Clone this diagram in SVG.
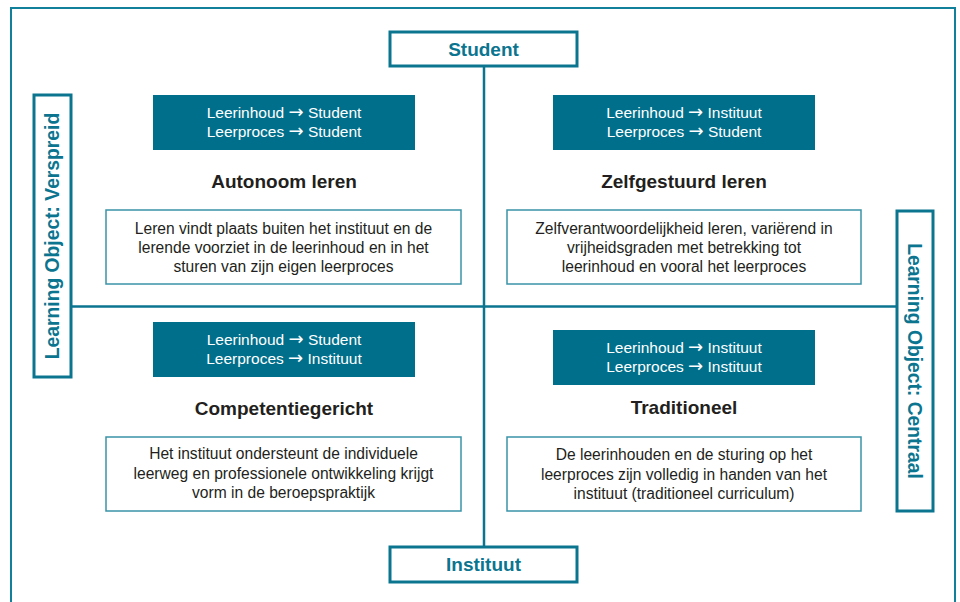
<svg xmlns="http://www.w3.org/2000/svg" width="960" height="602" viewBox="0 0 960 602">
  <style>
    .frame { fill: none; stroke: #11809a; stroke-width: 2; }
    .axis { fill: #ffffff; stroke: #0b7590; stroke-width: 3; }
    .axis-label { font-family: "Liberation Sans", Arial, sans-serif; font-weight: bold; font-size: 19px; fill: #0b7590; text-anchor: middle; }
    .side-label { font-family: "Liberation Sans", Arial, sans-serif; font-weight: bold; font-size: 19.3px; fill: #0b7590; text-anchor: middle; }
    .tag { fill: #006f8b; }
    .tag-text { font-family: "Liberation Sans", Arial, sans-serif; font-size: 15.5px; fill: #ffffff; text-anchor: middle; }
    .arrow { font-family: "DejaVu Sans", sans-serif; font-size: 18px; }
    .title { font-family: "Liberation Sans", Arial, sans-serif; font-weight: bold; font-size: 19px; fill: #231f20; text-anchor: middle; }
    .desc-box { fill: #ffffff; stroke: #3a93a8; stroke-width: 1.5; }
    .desc { font-family: "Liberation Sans", Arial, sans-serif; font-size: 15.6px; fill: #231f20; text-anchor: middle; }
    .link { stroke: #0b7590; stroke-width: 2.5; fill: none; }
  </style>

  <!-- outer frame, open at the bottom -->
  <rect class="frame" x="11" y="8" width="944" height="610"/>

  <!-- axes -->
  <g id="connectors">
    <line class="link" x1="484" y1="66" x2="484" y2="546"/>
    <line class="link" x1="72" y1="306.5" x2="896" y2="306.5"/>
  </g>

  <g id="student">
    <rect class="axis" x="390" y="32" width="187" height="34"/>
    <text class="axis-label" x="483.5" y="55.5">Student</text>
  </g>

  <g id="instituut">
    <rect class="axis" x="390" y="547" width="187" height="35"/>
    <text class="axis-label" x="483.5" y="571">Instituut</text>
  </g>

  <g id="verspreid">
    <rect class="axis" x="34" y="95" width="37" height="282"/>
    <text class="side-label" transform="translate(59 236) rotate(-90)" x="0" y="0">Learning Object: Verspreid</text>
  </g>

  <g id="centraal">
    <rect class="axis" x="897" y="211" width="36" height="300"/>
    <text class="side-label" transform="translate(908 361) rotate(90)" x="0" y="0">Learning Object: Centraal</text>
  </g>

  <!-- top-left quadrant -->
  <g id="autonoom">
    <rect class="tag" x="153" y="95" width="262" height="55"/>
    <text class="tag-text" x="284" y="117.5">Leerinhoud <tspan class="arrow">→</tspan> Student</text>
    <text class="tag-text" x="284" y="136.5">Leerproces <tspan class="arrow">→</tspan> Student</text>
    <text class="title" x="284" y="188">Autonoom leren</text>
    <rect class="desc-box" x="106" y="210" width="355" height="74"/>
    <text class="desc" x="283.5" y="233.5">Leren vindt plaats buiten het instituut en de</text>
    <text class="desc" x="283.5" y="252.5">lerende voorziet in de leerinhoud en in het</text>
    <text class="desc" x="283.5" y="271.5">sturen van zijn eigen leerproces</text>
  </g>

  <!-- top-right quadrant -->
  <g id="zelfgestuurd">
    <rect class="tag" x="553" y="95" width="262" height="55"/>
    <text class="tag-text" x="684" y="117.5">Leerinhoud <tspan class="arrow">→</tspan> Instituut</text>
    <text class="tag-text" x="684" y="136.5">Leerproces <tspan class="arrow">→</tspan> Student</text>
    <text class="title" x="684" y="188">Zelfgestuurd leren</text>
    <rect class="desc-box" x="507" y="210" width="354" height="74"/>
    <text class="desc" x="684" y="233.5">Zelfverantwoordelijkheid leren, variërend in</text>
    <text class="desc" x="684" y="252.5">vrijheidsgraden met betrekking tot</text>
    <text class="desc" x="684" y="271.5">leerinhoud en vooral het leerproces</text>
  </g>

  <!-- bottom-left quadrant -->
  <g id="competentiegericht">
    <rect class="tag" x="153" y="322" width="262" height="55"/>
    <text class="tag-text" x="284" y="344.5">Leerinhoud <tspan class="arrow">→</tspan> Student</text>
    <text class="tag-text" x="284" y="363.5">Leerproces <tspan class="arrow">→</tspan> Instituut</text>
    <text class="title" x="284" y="415">Competentiegericht</text>
    <rect class="desc-box" x="106" y="437" width="355" height="74"/>
    <text class="desc" x="283.5" y="458.5">Het instituut ondersteunt de individuele</text>
    <text class="desc" x="283.5" y="478.5">leerweg en professionele ontwikkeling krijgt</text>
    <text class="desc" x="283.5" y="497.5">vorm in de beroepspraktijk</text>
  </g>

  <!-- bottom-right quadrant -->
  <g id="traditioneel">
    <rect class="tag" x="553" y="330" width="262" height="55"/>
    <text class="tag-text" x="684" y="352.5">Leerinhoud <tspan class="arrow">→</tspan> Instituut</text>
    <text class="tag-text" x="684" y="371.5">Leerproces <tspan class="arrow">→</tspan> Instituut</text>
    <text class="title" x="684" y="414">Traditioneel</text>
    <rect class="desc-box" x="507" y="437" width="354" height="74"/>
    <text class="desc" x="684" y="459.5">De leerinhouden en de sturing op het</text>
    <text class="desc" x="684" y="479.5">leerproces zijn volledig in handen van het</text>
    <text class="desc" x="684" y="498.5">instituut (traditioneel curriculum)</text>
  </g>
</svg>
